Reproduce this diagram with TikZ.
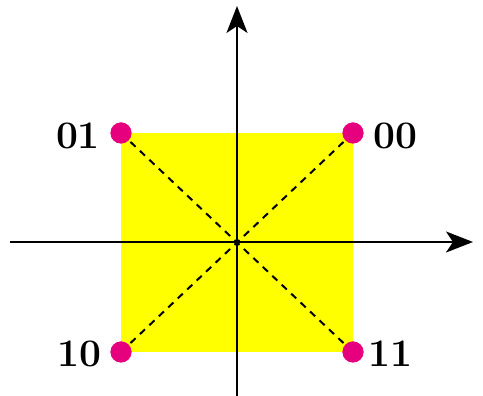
\documentclass[tikz,border=0pt]{standalone}
\usetikzlibrary{arrows.meta}
\definecolor{dotpink}{RGB}{230,0,126}
\definecolor{sqyellow}{RGB}{255,255,0}
\tikzset{
  axis/.style={line width=2.4pt,-{Stealth[length=27pt,width=21pt,inset=7pt]}},
  diag/.style={line width=2pt,dash pattern=on 7pt off 6pt},
  pt/.style={circle,fill=dotpink,inner sep=0pt,minimum size=21pt},
  lab/.style={font=\fontsize{39}{39}\selectfont\bfseries,inner sep=0pt}
}
\begin{document}
\begin{tikzpicture}[x=1pt,y=1pt]
\useasboundingbox (0,0) rectangle (483,396);
\fill[sqyellow] (121,44) rectangle (353,263);
\coordinate (o) at (237,154);
\coordinate (xl) at (10,154);
\coordinate (xr) at (473,154);
\coordinate (yb) at (237,0);
\coordinate (yt) at (237,390);
\node[pt] (p01) at (121,263) {};
\node[pt] (p00) at (353,263) {};
\node[pt] (p10) at (121,44) {};
\node[pt] (p11) at (353,44) {};
\draw[diag] (p01.center) -- (p11.center);
\draw[diag] (p00.center) -- (p10.center);
\draw[axis] (xl) -- (xr);
\draw[axis] (yb) -- (yt);
\node[pt] at (p01) {};
\node[pt] at (p00) {};
\node[pt] at (p10) {};
\node[pt] at (p11) {};
\node[lab] (l01) at (78,260) {01};
\node[lab] (l00) at (395,260) {00};
\node[lab] (l10) at (79,42) {10};
\node[lab] (l11) at (390,42) {11};
\end{tikzpicture}
\end{document}
